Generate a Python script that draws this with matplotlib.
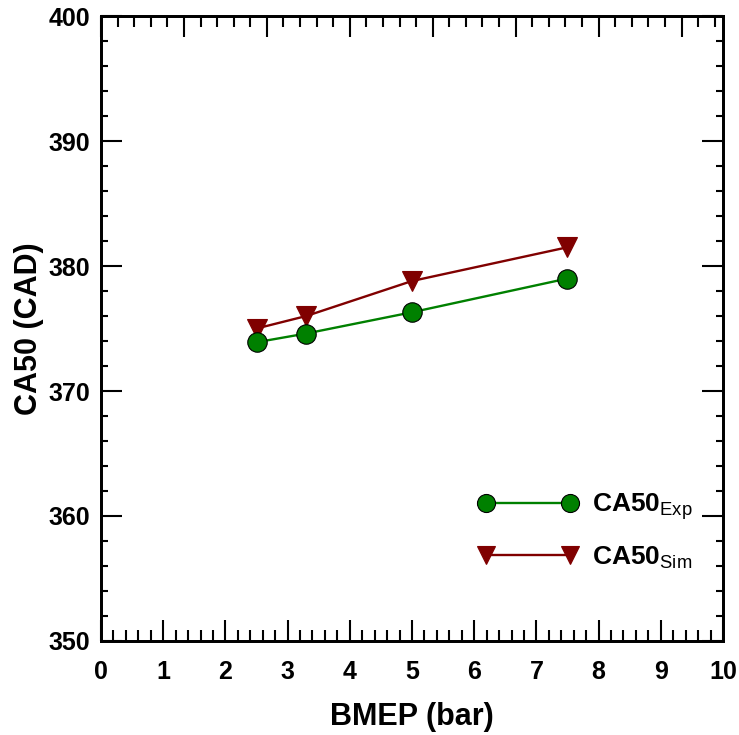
import matplotlib
matplotlib.use("Agg")
import matplotlib.pyplot as plt
from matplotlib.ticker import MultipleLocator

# ---- data ----
bmep = [2.5, 3.3, 5.0, 7.5]
ca50_exp = [373.9, 374.6, 376.3, 379.0]
ca50_sim = [375.0, 376.0, 378.8, 381.5]

GREEN = "#008000"
DRED = "#800000"

plt.rcParams.update({
    "font.family": "Liberation Sans",
    "font.weight": "bold",
    "mathtext.fontset": "custom",
    "mathtext.rm": "Liberation Sans:weight=normal",
    "mathtext.it": "Liberation Sans:italic",
    "mathtext.bf": "Liberation Sans:bold",
})

fig = plt.figure(figsize=(7.39, 7.35), dpi=100)
ax = fig.add_axes([0.1367, 0.1279, 0.8416, 0.8503])

ax.plot(bmep, ca50_exp, color=GREEN, lw=1.7, marker="o", ms=14,
        mfc=GREEN, mec="black", mew=0.8, label=r"CA50$_{\mathrm{Exp}}$", zorder=3)
ax.plot(bmep, ca50_sim, color=DRED, lw=1.7, marker="v", ms=14,
        mfc=DRED, mec=DRED, mew=0.8, label=r"CA50$_{\mathrm{Sim}}$", zorder=2)

ax.set_xlim(0, 10)
ax.set_ylim(350, 400)
ax.xaxis.set_major_locator(MultipleLocator(1))
ax.xaxis.set_minor_locator(MultipleLocator(0.2))
ax.yaxis.set_major_locator(MultipleLocator(10))
ax.yaxis.set_minor_locator(MultipleLocator(2))

ax.tick_params(axis="both", which="both", direction="in", width=1.5,
               labelsize=18)
ax.tick_params(axis="x", which="major", length=15, pad=14, top=False)
ax.tick_params(axis="x", which="minor", length=7.7, top=False)
ax.tick_params(axis="y", which="major", length=15, pad=8, right=True)
ax.tick_params(axis="y", which="minor", length=4.7, right=True)

for sp in ax.spines.values():
    sp.set_linewidth(2)

ax.set_xlabel("BMEP (bar)", fontsize=22, fontweight="bold", labelpad=13)
ax.set_ylabel("CA50 (CAD)", fontsize=22, fontweight="bold", labelpad=3)

# top axis with its own tick spacing
top = ax.twiny()
top.set_xlim(0, 7.5)
top.xaxis.set_major_locator(MultipleLocator(1))
top.xaxis.set_minor_locator(MultipleLocator(0.2))
top.tick_params(axis="x", which="both", direction="in", width=1.5,
                labeltop=False, labelbottom=False, bottom=False, top=True)
top.tick_params(axis="x", which="major", length=15)
top.tick_params(axis="x", which="minor", length=7.7)
for sp in top.spines.values():
    sp.set_linewidth(2)

leg = ax.legend(loc="center left", bbox_to_anchor=(0.585, 0.176),
                frameon=False, numpoints=2, handlelength=3.8,
                handletextpad=0.5, labelspacing=0.85, borderpad=0,
                prop={"size": 19, "weight": "bold"})
for h in leg.legend_handles:
    h.set_markersize(13)

fig.savefig("out.png", dpi=100)
